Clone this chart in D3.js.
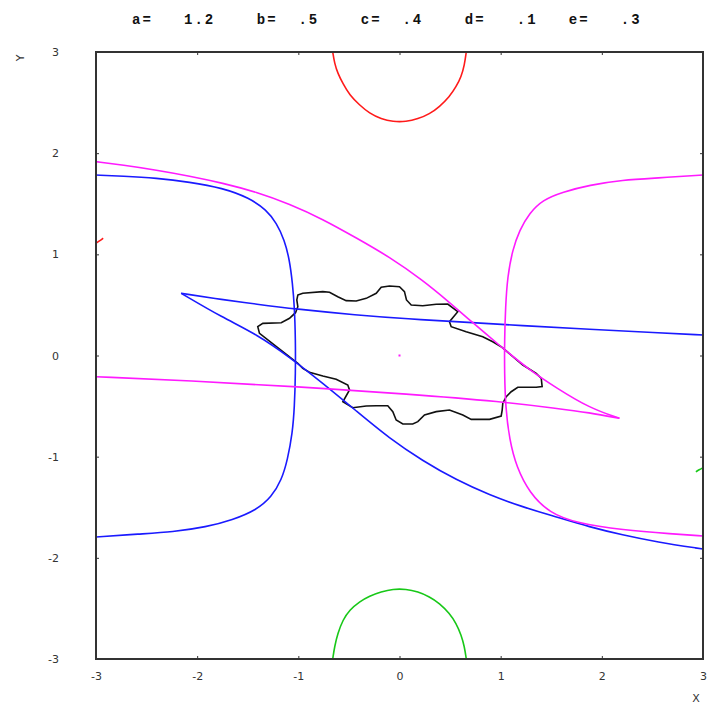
<!DOCTYPE html>
<html lang="en">
<head>
<meta charset="UTF-8">
<title>Implicit curves a b c d e</title>
<script src="https://d3js.org/d3.v7.min.js"></script>
<style>
  html, body {margin: 0; padding: 0; background: #fff; overflow: hidden}
  .tick text {font-family: 'DejaVu Sans', sans-serif; font-size: 11px; fill: #333;}
  .tick line {stroke: #333;}
</style>
</head>
<body>
<div id="chart"></div>
<script>
// parameters shown in the title
const titleText = "a=   1.2    b=  .5    c=  .4    d=   .1   e=   .3";
const ticks = [-3, -2, -1, 0, 1, 2, 3];

// curves, in data units [x, y]
const redArc = [[-0.66,3],[-0.642,2.888],[-0.61,2.789],[-0.56,2.69],[-0.494,2.575],[-0.395,2.476],[-0.297,2.394],
  [-0.181,2.338],[-0.066,2.311],[0.066,2.311],[0.181,2.338],[0.297,2.387],[0.395,2.459],[0.494,2.558],
  [0.56,2.657],[0.61,2.756],[0.642,2.871],[0.66,3]];
const greenArc = [[-0.66,-3],[-0.642,-2.878],[-0.61,-2.746],[-0.56,-2.614],[-0.494,-2.515],[-0.395,-2.433],[-0.297,-2.377],
  [-0.181,-2.335],[-0.066,-2.308],[0.066,-2.308],[0.181,-2.335],[0.297,-2.384],[0.395,-2.449],[0.494,-2.548],
  [0.56,-2.647],[0.61,-2.763],[0.642,-2.878],[0.66,-3]];
const redBit = [[-3,1.11],[-2.97,1.13],[-2.94,1.15],[-2.93,1.16]];
const greenBit = [[2.93,-1.15],[2.96,-1.13],[3,-1.11]];

const blueLeft = [[-3,1.784],[-2.738,1.774],[-2.402,1.754],[-2.076,1.715],[-1.749,1.656],[-1.483,1.557],[-1.315,1.438],
  [-1.216,1.31],[-1.137,1.142],[-1.087,0.944],[-1.058,0.717],[-1.038,0.479],[-1.028,0.153],[-1.028,-0.173],
  [-1.038,-0.509],[-1.058,-0.766],[-1.107,-1.033],[-1.166,-1.231],[-1.265,-1.399],[-1.413,-1.527],
  [-1.651,-1.626],[-1.908,-1.695],[-2.244,-1.745],[-2.57,-1.764],[-3,-1.794]];
const blueS = [[-2.158,0.615],[-1.749,0.375],[-1.413,0.21],[-1.087,-0.015],[-0.761,-0.272],[-0.425,-0.55],
  [-0.099,-0.82],[0.227,-1.04],[0.563,-1.231],[0.89,-1.379],[1.216,-1.497],[1.552,-1.596],[1.878,-1.695],
  [2.204,-1.774],[2.54,-1.843],[3,-1.913]];
const blueLine = [[-2.158,0.615],[-1.747,0.552],[-1.416,0.508],[-1.038,0.46],[-0.428,0.4],[0.099,0.361],[0.56,0.334],
  [1.219,0.295],[1.878,0.259],[2.537,0.225],[3,0.203]];

const magRight = [[3,1.784],[2.54,1.754],[2.204,1.735],[1.878,1.685],[1.611,1.616],[1.413,1.537],[1.285,1.408],
  [1.186,1.24],[1.117,1.043],[1.067,0.776],[1.048,0.479],[1.038,0.153],[1.038,-0.173],[1.048,-0.509],
  [1.087,-0.835],[1.156,-1.102],[1.285,-1.359],[1.483,-1.557],[1.749,-1.656],[2.204,-1.725],[2.698,-1.764],[3,-1.784]];
const magUpper = [[-3,1.916],[-2.738,1.883],[-2.402,1.833],[-2.076,1.774],[-1.749,1.705],[-1.413,1.616],[-1.087,1.497],
  [-0.761,1.349],[-0.425,1.161],[-0.099,0.974],[0.227,0.746],[0.494,0.525],[0.692,0.351],[1.018,0.074],
  [1.285,-0.143],[1.552,-0.321],[1.878,-0.519],[2.174,-0.621]];
const magLine = [[-3,-0.21],[-2.076,-0.249],[-1.021,-0.308],[0.099,-0.381],[1.021,-0.457],[1.549,-0.522],[1.878,-0.565],[2.174,-0.621]];
const magDot = [[0, 0]];

const blackLoop = [[-1.005,0.598],[-0.956,0.615],[-0.758,0.631],[-0.692,0.625],[-0.61,0.581],[-0.527,0.542],[-0.428,0.539],
  [-0.329,0.565],[-0.23,0.615],[-0.181,0.674],[-0.099,0.687],[0,0.68],[0.049,0.631],[0.069,0.549],[0.116,0.499],
  [0.23,0.492],[0.363,0.506],[0.477,0.509],[0.576,0.433],[0.494,0.334],[0.511,0.285],[0.659,0.235],[0.823,0.186],
  [0.922,0.136],[1.005,0.087],[1.219,-0.094],[1.351,-0.176],[1.401,-0.225],[1.41,-0.308],[1.351,-0.314],
  [1.169,-0.314],[1.104,-0.358],[1.055,-0.407],[1.021,-0.472],[1.015,-0.539],[1.005,-0.598],[0.89,-0.631],
  [0.709,-0.631],[0.626,-0.588],[0.494,-0.539],[0.363,-0.555],[0.247,-0.588],[0.181,-0.654],[0.131,-0.677],
  [0.033,-0.677],[-0.033,-0.638],[-0.066,-0.555],[-0.116,-0.496],[-0.23,-0.496],[-0.329,-0.499],[-0.462,-0.516],
  [-0.56,-0.457],[-0.494,-0.341],[-0.511,-0.292],[-0.626,-0.235],[-0.758,-0.203],[-0.89,-0.166],[-0.956,-0.127],
  [-1.005,-0.077],[-1.384,0.219],[-1.401,0.285],[-1.351,0.318],[-1.169,0.324],[-1.087,0.368],[-1.028,0.423],
  [-1.005,0.482],[-1.015,0.549]];

const W = 708, H = 707;
const box = {left: 96, right: 703, top: 52, bottom: 659};

const svg = d3.select("#chart").append("svg")
  .attr("width", W).attr("height", H);

const x = d3.scaleLinear().domain([-3, 3]).range([box.left, box.right]);
const y = d3.scaleLinear().domain([-3, 3]).range([box.bottom, box.top]);

// title
svg.append("text")
  .attr("x", 132).attr("y", 24)
  .style("white-space", "pre")
  .style("font-family", "'Liberation Mono', monospace")
  .style("font-weight", "bold")
  .style("font-size", "14px")
  .style("letter-spacing", "2px")
  .attr("fill", "#111")
  .text(titleText);

// curves
const line = d3.line().x(d => x(d[0])).y(d => y(d[1])).curve(d3.curveLinearClosed);
const smooth = d3.line().x(d => x(d[0])).y(d => y(d[1])).curve(d3.curveBasis);

const plot = svg.append("g");
plot.append("path").datum(blackLoop).attr("d", line)
  .attr("fill", "none").attr("stroke", "#111").attr("stroke-width", 1.6);

const curves = [
  [redArc, "#ff1a1a"], [redBit, "#ff1a1a"],
  [greenArc, "#18c818"], [greenBit, "#18c818"],
  [blueLeft, "#1a1aff"], [blueS, "#1a1aff"], [blueLine, "#1a1aff"],
  [magRight, "#ff1aff"], [magUpper, "#ff1aff"], [magLine, "#ff1aff"]
];
curves.forEach(([pts, col]) => {
  plot.append("path").datum(pts).attr("d", smooth)
    .attr("fill", "none").attr("stroke", col).attr("stroke-width", 1.6);
});
plot.selectAll(".dot").data(magDot).join("rect").attr("class", "dot")
  .attr("x", d => x(d[0]) - 1).attr("y", d => y(d[1]) - 1)
  .attr("width", 2).attr("height", 2).attr("fill", "#ff1aff");

// axes, ticks inward
const fmt = d => String(d);
svg.append("g").attr("transform", `translate(0,${box.bottom})`)
  .call(d3.axisBottom(x).tickValues(ticks).tickFormat(fmt).tickSize(-3).tickPadding(13))
  .call(g => g.select(".domain").remove());
svg.append("g").attr("transform", `translate(${box.left},0)`)
  .call(d3.axisLeft(y).tickValues(ticks).tickFormat(fmt).tickSize(-3).tickPadding(37))
  .call(g => g.select(".domain").remove());
svg.append("g").attr("transform", `translate(0,${box.top})`)
  .call(d3.axisTop(x).tickValues(ticks).tickFormat("").tickSize(-3))
  .call(g => g.select(".domain").remove());
svg.append("g").attr("transform", `translate(${box.right},0)`)
  .call(d3.axisRight(y).tickValues(ticks).tickFormat("").tickSize(-3))
  .call(g => g.select(".domain").remove());

svg.append("rect")
  .attr("x", box.left).attr("y", box.top)
  .attr("width", box.right - box.left).attr("height", box.bottom - box.top)
  .attr("fill", "none").attr("stroke", "#333").attr("stroke-width", 2);

// axis names
svg.append("text").attr("transform", "translate(24,58) rotate(-90)")
  .attr("text-anchor", "middle")
  .style("font-family", "'DejaVu Sans', sans-serif").style("font-size", "11px").attr("fill", "#333")
  .text("Y");
svg.append("text").attr("x", 696).attr("y", 702)
  .attr("text-anchor", "middle")
  .style("font-family", "'DejaVu Sans', sans-serif").style("font-size", "11px").attr("fill", "#333")
  .text("X");
</script>
</body>
</html>
